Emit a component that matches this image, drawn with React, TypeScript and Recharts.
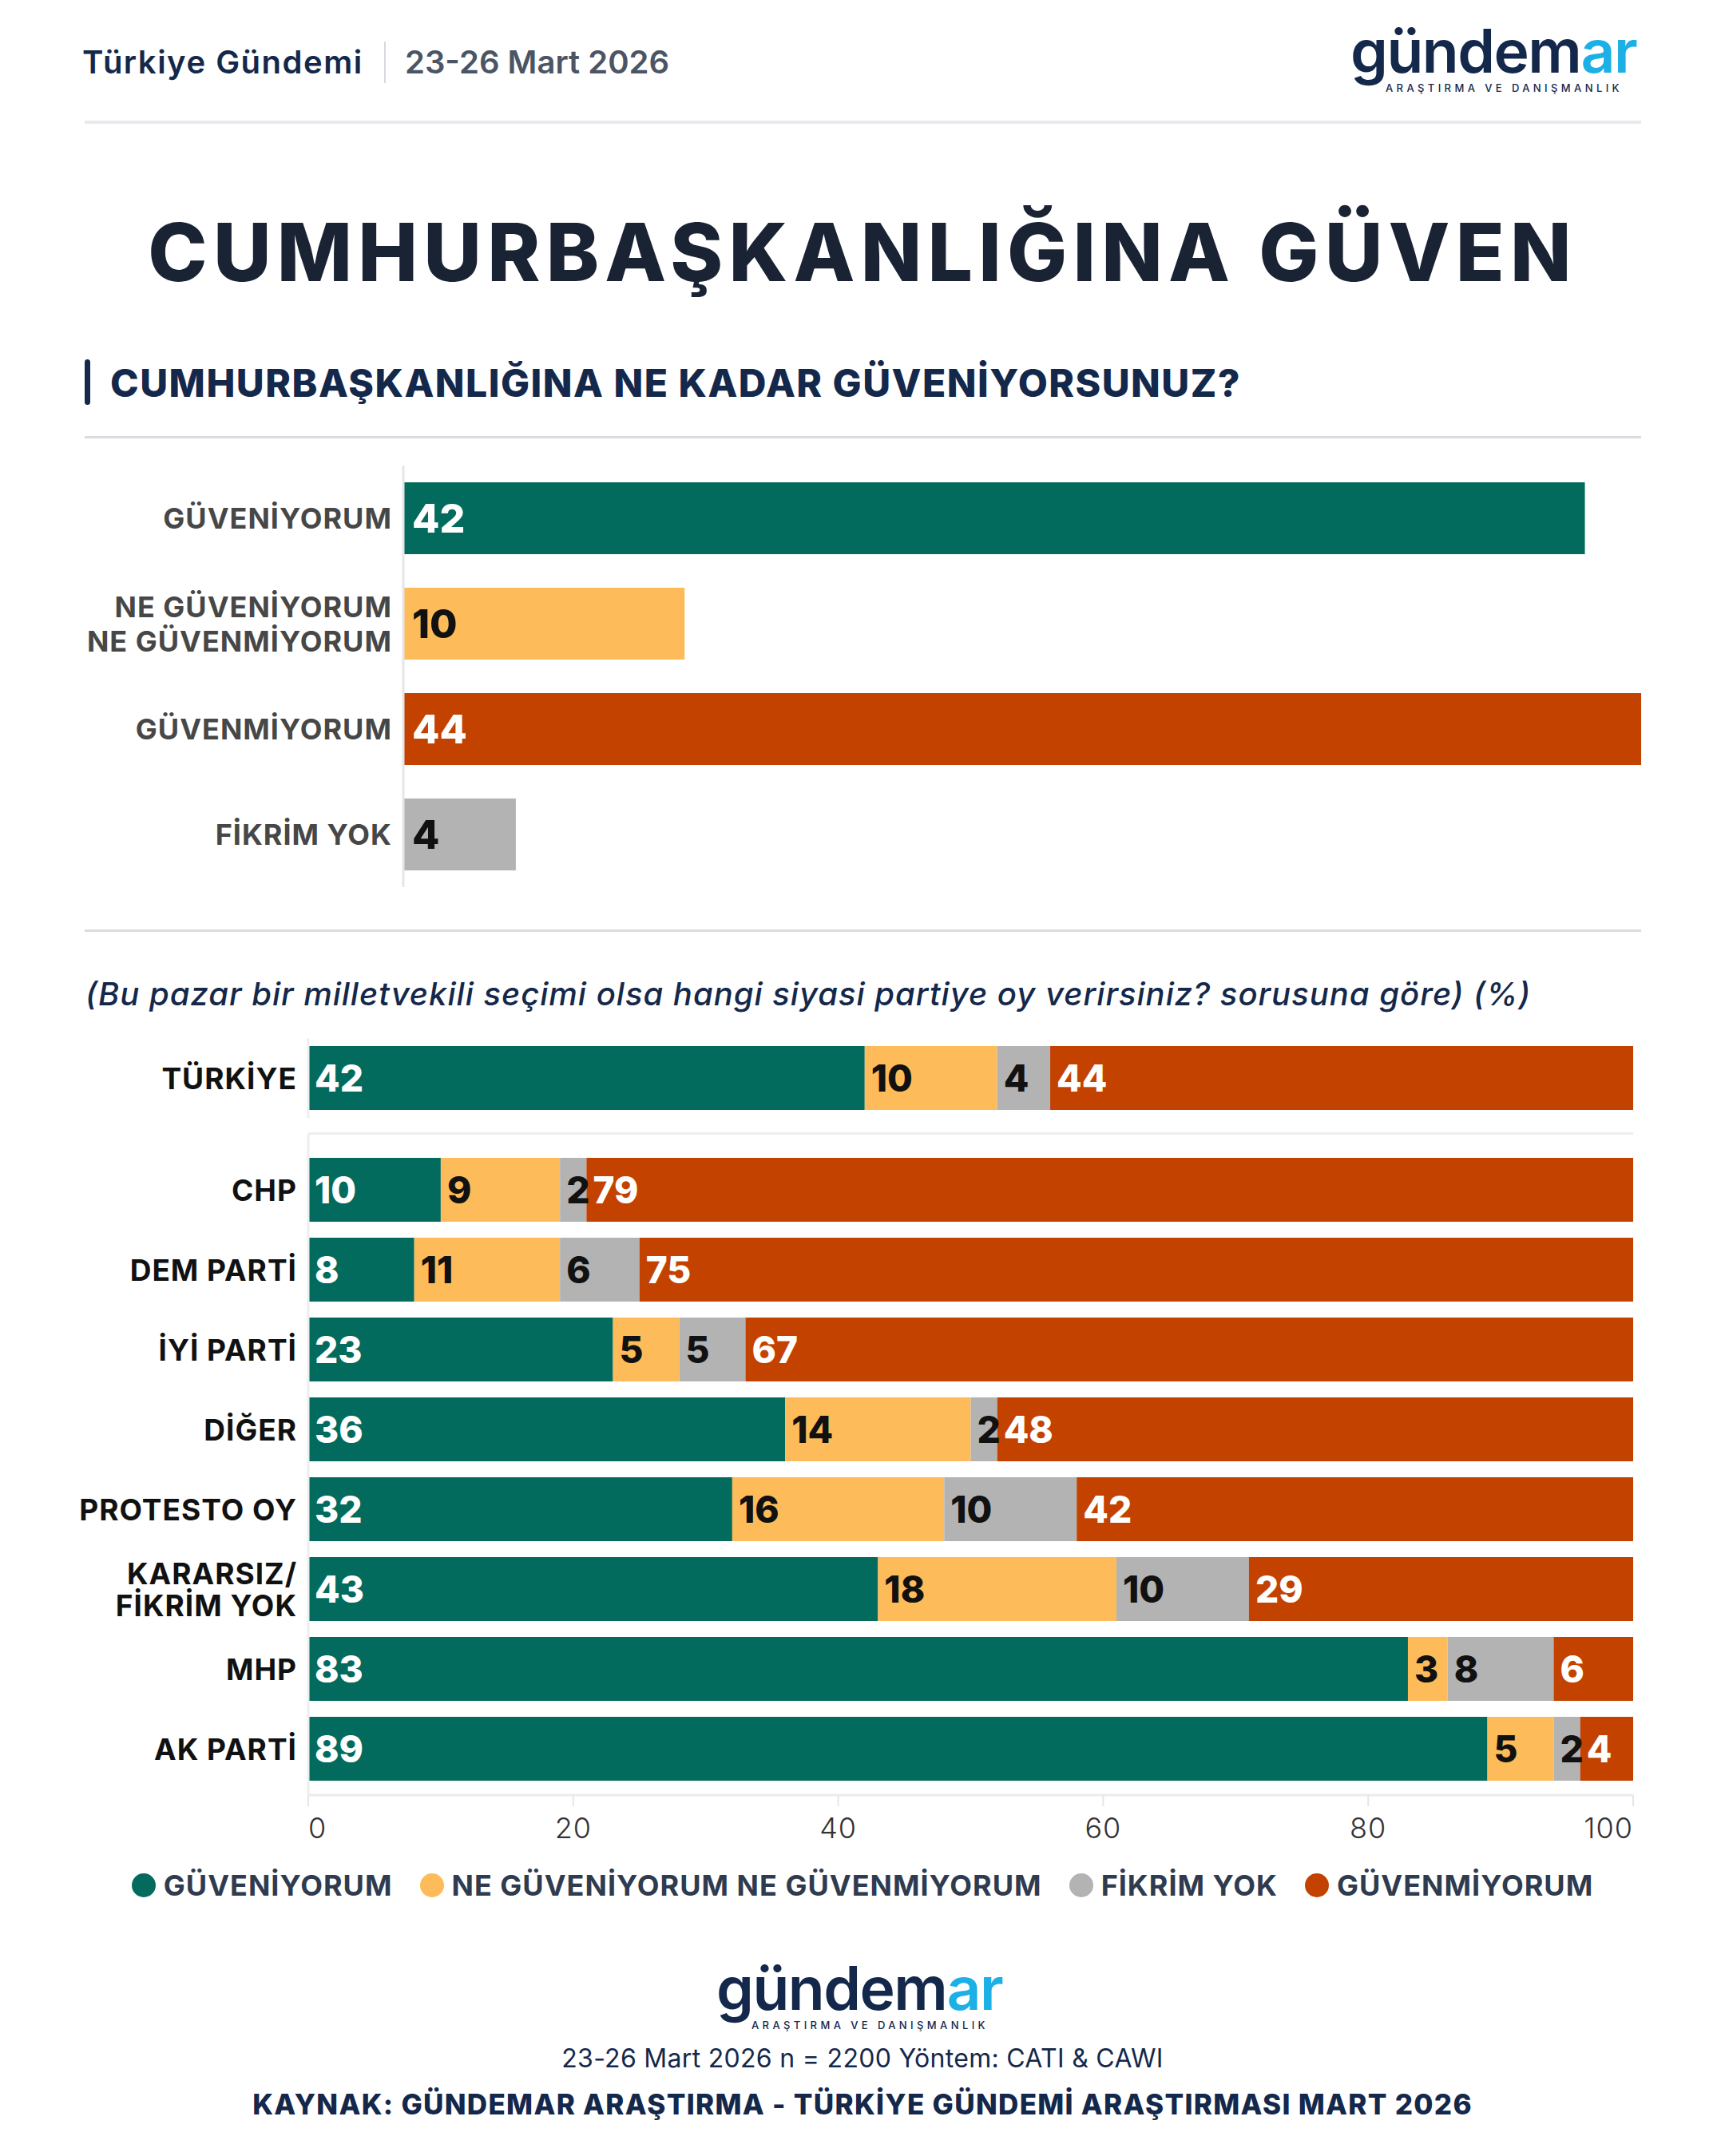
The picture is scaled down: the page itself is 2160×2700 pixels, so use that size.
import React from 'react';
import { BarChart, Bar, XAxis, YAxis, LabelList, Cell } from 'recharts';

const FONT = "Inter, 'Noto Sans', sans-serif";
const NAVY = '#14284b';
const GREEN = '#036b5e';
const YELLOW = '#fdbb59';
const GRAY = '#b3b3b3';
const RED = '#c44200';

// üst grafik: genel güven
const trustCategories = ['GÜVENİYORUM', 'NE GÜVENİYORUM\nNE GÜVENMİYORUM', 'GÜVENMİYORUM', 'FİKRİM YOK'];
const trustValues = [42, 10, 44, 4];

// legend / seri adları
const seriesNames = ['GÜVENİYORUM', 'NE GÜVENİYORUM NE GÜVENMİYORUM', 'FİKRİM YOK', 'GÜVENMİYORUM'];

// türkiye geneli
const turkiyeCategories = ['TÜRKİYE'];
const turkiyeGuveniyorum = [42];
const turkiyeNeNe = [10];
const turkiyeFikrimYok = [4];
const turkiyeGuvenmiyorum = [44];

// parti kırılımı
const parties = ['CHP', 'DEM PARTİ', 'İYİ PARTİ', 'DİĞER', 'PROTESTO OY', 'KARARSIZ/\nFİKRİM YOK', 'MHP', 'AK PARTİ'];
const guveniyorum = [10, 8, 23, 36, 32, 43, 83, 89];
const neNe = [9, 11, 5, 14, 16, 18, 3, 5];
const fikrimYok = [2, 6, 5, 2, 10, 10, 8, 2];
const guvenmiyorum = [79, 75, 67, 48, 42, 29, 6, 4];

const xTicks = [0, 20, 40, 60, 80, 100];

const trustColors = [GREEN, YELLOW, RED, GRAY];
const trustLabelFill = ['#fff', '#111', '#fff', '#111'];
const stackKeys = ['g', 'n', 'f', 'r'];
const stackColors = [GREEN, YELLOW, GRAY, RED];
const stackLabelFill = ['#fff', '#111', '#111', '#fff'];

const toRows = (cats: string[], a: number[], b: number[], c: number[], d: number[]) =>
  cats.map((name, i) => ({ name, g: a[i], n: b[i], f: c[i], r: d[i] }));

const trustData = trustCategories.map((name, i) => ({ name, value: trustValues[i] }));
const turkiyeData = toRows(turkiyeCategories, turkiyeGuveniyorum, turkiyeNeNe, turkiyeFikrimYok, turkiyeGuvenmiyorum);
const partyData = toRows(parties, guveniyorum, neNe, fikrimYok, guvenmiyorum);

const getBox = (p: any) => {
  const v = p.viewBox && p.viewBox.height != null ? p.viewBox : p;
  return { x: Number(v.x), y: Number(v.y), w: Number(v.width), h: Number(v.height) };
};

const CategoryTick = (props: any) => {
  const { x, y, payload, fill, fontSize, lineGap } = props;
  const lines = String(payload.value).split('\n');
  const start = -((lines.length - 1) * lineGap) / 2;
  return (
    <text x={x} y={y} textAnchor="end" fill={fill} fontSize={fontSize} fontWeight={700} fontFamily={FONT} letterSpacing={1}>
      {lines.map((l, i) => (
        <tspan key={i} x={x} y={y + start + i * lineGap} dominantBaseline="central">{l}</tspan>
      ))}
    </text>
  );
};

const XTick = (props: any) => {
  const { x, y, payload } = props;
  const v = payload.value;
  const anchor = v === 0 ? 'start' : v === 100 ? 'end' : 'middle';
  return (
    <text x={x} y={y + 38} textAnchor={anchor} fill="#333" fontSize={36} fontWeight={300} fontFamily={FONT} letterSpacing={1}>{v}</text>
  );
};

const valueLabel = (fillFor: (i: number) => string, fontSize: number, pad: number) => (p: any) => {
  const b = getBox(p);
  if (!p.value) return null;
  return (
    <text x={b.x + pad} y={b.y + b.h / 2} dominantBaseline="central" fill={fillFor(p.index ?? 0)}
      fontSize={fontSize} fontWeight={800} fontFamily={FONT}>{p.value}</text>
  );
};

const Logo = ({ left, baseline }: { left: number; baseline: number }) => (
  <svg style={{ position: 'absolute', left, top: baseline - 80 }} width={400} height={120}>
    <text x={0} y={80} fontFamily={FONT} fontSize={75} fontWeight={600} letterSpacing={-1.5} fill={NAVY}>
      gündem<tspan fill="#1cb0e6">ar</tspan>
    </text>
    <text x={44} y={104} fontFamily={FONT} fontSize={13} fontWeight={500} letterSpacing={4.4} fill={NAVY}>ARAŞTIRMA VE DANIŞMANLIK</text>
  </svg>
);

const line = (left: number, top: number, width: number, height: number, color: string) => (
  <div style={{ position: 'absolute', left, top, width, height, background: color }} />
);

export default function App() {
  return (
    <div style={{ position: 'absolute', left: 0, top: 0, width: 2160, height: 2700, background: '#fff', overflow: 'hidden', fontFamily: FONT }}>
      {/* başlık satırı */}
      <div style={{ position: 'absolute', left: 103, top: 58, fontSize: 40, lineHeight: '40px', fontWeight: 600, letterSpacing: 1.5, color: NAVY }}>Türkiye Gündemi</div>
      {line(481, 52, 2, 52, '#d5d9df')}
      <div style={{ position: 'absolute', left: 507, top: 58, fontSize: 40, lineHeight: '40px', fontWeight: 600, color: '#4b5565' }}>23-26 Mart 2026</div>
      <Logo left={1691} baseline={91} />
      {line(106, 151, 1949, 4, '#e8e9ee')}

      <div style={{ position: 'absolute', left: 0, width: 2160, top: 266, textAlign: 'center', fontSize: 100, lineHeight: '100px', fontWeight: 800, letterSpacing: 7.2, color: '#1a2333' }}>
        CUMHURBAŞKANLIĞINA GÜVEN
      </div>

      <div style={{ position: 'absolute', left: 106, top: 450, width: 7, height: 57, borderRadius: 4, background: NAVY }} />
      <div style={{ position: 'absolute', left: 138, top: 456, fontSize: 48, lineHeight: '48px', fontWeight: 800, letterSpacing: 1.5, color: NAVY }}>
        CUMHURBAŞKANLIĞINA NE KADAR GÜVENİYORSUNUZ?
      </div>
      {line(106, 546, 1949, 3, '#d9dce1')}

      {/* genel güven */}
      <div style={{ position: 'absolute', left: 0, top: 578 }}>
        <BarChart width={2160} height={540} data={trustData} layout="vertical" margin={{ top: 5, right: 105, bottom: 7, left: 0 }} barSize={90}>
          <XAxis type="number" domain={[0, 44]} hide />
          <YAxis type="category" dataKey="name" width={505} axisLine={{ stroke: '#e6e6e6', strokeWidth: 3 }} tickLine={false} tickSize={0} tickMargin={14}
            tick={<CategoryTick fill="#474747" fontSize={36} lineGap={43} />} interval={0} />
          <Bar dataKey="value" isAnimationActive={false}>
            {trustData.map((d, i) => <Cell key={d.name} fill={trustColors[i]} />)}
            <LabelList dataKey="value" content={valueLabel((i) => trustLabelFill[i], 50, 11)} />
          </Bar>
        </BarChart>
      </div>
      {line(106, 1164, 1949, 3, '#d9dce1')}

      <div style={{ position: 'absolute', left: 107, top: 1225, fontSize: 40, lineHeight: '40px', fontWeight: 500, fontStyle: 'italic', letterSpacing: 1, color: NAVY }}>
        (Bu pazar bir milletvekili seçimi olsa hangi siyasi partiye oy verirsiniz? sorusuna göre) (%)
      </div>

      {/* türkiye geneli */}
      <div style={{ position: 'absolute', left: 0, top: 1300 }}>
        <BarChart width={2160} height={100} data={turkiyeData} layout="vertical" margin={{ top: 0, right: 115, bottom: 0, left: 0 }} barSize={80}>
          <XAxis type="number" domain={[0, 100]} hide />
          <YAxis type="category" dataKey="name" width={386} axisLine={{ stroke: '#eeeeee', strokeWidth: 3 }} tickLine={false} tickSize={0} tickMargin={14}
            tick={<CategoryTick fill="#111" fontSize={37} lineGap={40} />} />
          {stackKeys.map((k, i) => (
            <Bar key={k} dataKey={k} stackId="t" fill={stackColors[i]} name={seriesNames[i]} isAnimationActive={false}>
              <LabelList dataKey={k} content={valueLabel(() => stackLabelFill[i], 46, 8)} />
            </Bar>
          ))}
        </BarChart>
      </div>
      {line(386, 1418, 1659, 3, '#eeeeee')}

      {/* parti kırılımı */}
      <div style={{ position: 'absolute', left: 0, top: 1420 }}>
        <BarChart width={2160} height={908} data={partyData} layout="vertical" margin={{ top: 0, right: 115, bottom: 0, left: 0 }} barSize={80}>
          <XAxis type="number" domain={[0, 100]} ticks={xTicks} height={80} axisLine={{ stroke: '#ececec', strokeWidth: 3 }}
            tickLine={{ stroke: '#e6e6e6', strokeWidth: 2 }} tickSize={14} tickMargin={2} tick={<XTick />} interval={0} />
          <YAxis type="category" dataKey="name" width={386} padding={{ top: 20, bottom: 8 }} axisLine={{ stroke: '#eeeeee', strokeWidth: 3 }}
            tickLine={false} tickSize={0} tickMargin={14} tick={<CategoryTick fill="#111" fontSize={37} lineGap={40} />} interval={0} />
          {stackKeys.map((k, i) => (
            <Bar key={k} dataKey={k} stackId="p" fill={stackColors[i]} name={seriesNames[i]} isAnimationActive={false}>
              <LabelList dataKey={k} content={valueLabel(() => stackLabelFill[i], 46, 8)} />
            </Bar>
          ))}
        </BarChart>
      </div>

      {/* legend */}
      <div style={{ position: 'absolute', left: 0, width: 2160, top: 2341, height: 40, display: 'flex', justifyContent: 'center', alignItems: 'center', gap: 34 }}>
        {seriesNames.map((s, i) => (
          <div key={s} style={{ display: 'flex', alignItems: 'center', gap: 10 }}>
            <div style={{ width: 30, height: 30, borderRadius: 15, background: stackColors[i] }} />
            <span style={{ fontSize: 36, lineHeight: '36px', fontWeight: 700, letterSpacing: 1, color: '#2f3b4f' }}>{s}</span>
          </div>
        ))}
      </div>

      {/* alt bilgi */}
      <Logo left={897} baseline={2517} />
      <div style={{ position: 'absolute', left: 0, width: 2160, top: 2562, textAlign: 'center', fontSize: 32, lineHeight: '32px', fontWeight: 400, letterSpacing: 0.3, color: NAVY }}>
        23-26 Mart 2026 n = 2200 Yöntem: CATI &amp; CAWI
      </div>
      <div style={{ position: 'absolute', left: 0, width: 2160, top: 2618, textAlign: 'center', fontSize: 35, lineHeight: '35px', fontWeight: 800, letterSpacing: 1.3, color: NAVY }}>
        KAYNAK: GÜNDEMAR ARAŞTIRMA - TÜRKİYE GÜNDEMİ ARAŞTIRMASI MART 2026
      </div>
    </div>
  );
}
